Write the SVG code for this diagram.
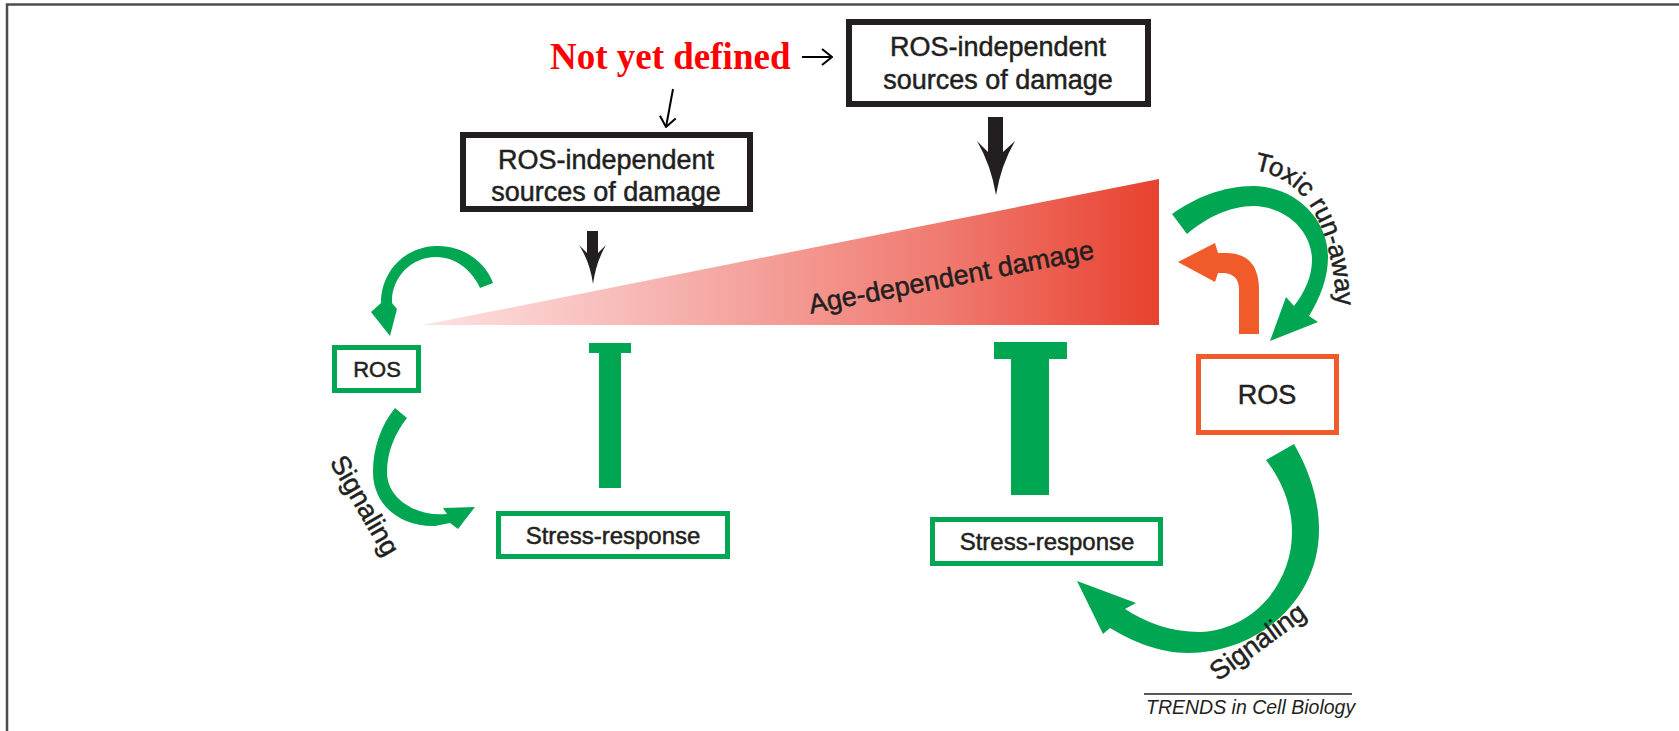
<svg xmlns="http://www.w3.org/2000/svg" width="1679" height="731" viewBox="0 0 1679 731">
<defs>
<linearGradient id="wedge" gradientUnits="userSpaceOnUse" x1="423" y1="0" x2="1160" y2="0">
<stop offset="0" stop-color="#fde2e2"/>
<stop offset="0.35" stop-color="#f6b0ac"/>
<stop offset="0.7" stop-color="#f07b71"/>
<stop offset="1" stop-color="#e8412f"/>
</linearGradient>
<marker id="vhead" viewBox="0 0 12 18" refX="11" refY="9" markerWidth="12" markerHeight="18" markerUnits="userSpaceOnUse" orient="auto">
<path d="M1,1 L11,9 L1,17" fill="none" stroke="#000" stroke-width="2"/>
</marker>
<path id="toxicPath" d="M1248,169 C1300,176 1337,212 1338,340"/>
</defs>
<style>
.lbl{font-family:"Liberation Sans",Arial,sans-serif;fill:#231f20;stroke:#231f20;stroke-width:0.5;}
.boxk{fill:#fff;stroke:#231f20;stroke-width:6;}
.boxg{fill:#fff;stroke:#00a651;stroke-width:5;}
.boxo{fill:#fff;stroke:#f15a29;stroke-width:5;}
.green{fill:#00a651;}
.black{fill:#231f20;}
.orange{fill:#f15a29;}
.thin{fill:none;stroke:#000;stroke-width:2;marker-end:url(#vhead);}
</style>

<!-- frame -->
<path d="M7,731 V4.5 H1679" fill="none" stroke="#4d4d4d" stroke-width="2.5"/>

<!-- wedge -->
<g id="wedge-damage">
<polygon points="423,325 1159,179 1159,325" fill="url(#wedge)"/>
<text class="lbl" font-size="27" text-anchor="middle" transform="translate(953,286) rotate(-11)">Age-dependent damage</text>
</g>

<g id="not-yet-defined">
<text x="550" y="69" font-family="'Liberation Serif','Times New Roman',serif" font-weight="bold" font-size="37" fill="#ff0000">Not yet defined</text>
</g>

<g id="ros-indep-top">
<rect class="boxk" x="849" y="22" width="299" height="82"/>
<text class="lbl" font-size="27" text-anchor="middle" x="998" y="56">ROS-independent</text>
<text class="lbl" font-size="27" text-anchor="middle" x="998" y="89">sources of damage</text>
</g>

<g id="ros-indep-left">
<rect class="boxk" x="463" y="135" width="287" height="74"/>
<text class="lbl" font-size="27" text-anchor="middle" x="606" y="169">ROS-independent</text>
<text class="lbl" font-size="27" text-anchor="middle" x="606" y="201">sources of damage</text>
</g>

<g id="ros-left">
<rect class="boxg" x="334.5" y="347.5" width="84" height="43"/>
<text class="lbl" font-size="22" text-anchor="middle" x="377" y="377">ROS</text>
</g>

<g id="stress-left">
<rect class="boxg" x="498.5" y="513.5" width="229" height="43"/>
<text class="lbl" font-size="24" text-anchor="middle" x="613" y="544">Stress-response</text>
</g>

<g id="stress-right">
<rect class="boxg" x="932.5" y="519.5" width="228" height="44"/>
<text class="lbl" font-size="24" text-anchor="middle" x="1047" y="550">Stress-response</text>
</g>

<g id="ros-right">
<rect class="boxo" x="1198.5" y="356.5" width="138" height="76"/>
<text class="lbl" font-size="27" text-anchor="middle" x="1267" y="404">ROS</text>
</g>

<g id="connectors">
<!-- thin arrows from Not yet defined -->
<line class="thin" x1="802" y1="57" x2="832" y2="57"/>
<line class="thin" x1="673" y1="89" x2="666" y2="127"/>
<!-- black damage arrows -->
<path class="black" d="M988,117 H1003 V152 L1015,141 Q1001,165 996,195 Q991,165 977,141 L988,152 Z"/>
<path class="black" d="M587,231 H598 V253 L606,245 Q596,262 593,284 Q590,262 579,245 L587,253 Z"/>
<!-- inhibition bars -->
<path class="green" d="M589,343 H631 V353 H621 V488 H599 V353 H589 Z"/>
<path class="green" d="M994,342 H1067 V359 H1049 V495 H1011 V359 H994 Z"/>
<!-- left small loop to ROS -->
<path class="green" d="M493,283 C485,261 462,245 436,246 C404,247 381,272 381,303 L371,312 L390,336 L397,309 L392,303 C391,279 410,257 436,257 C457,257 473,272 480,288 Z"/>
<!-- left signaling -->
<path class="green" d="M395,408 C381,425 373,448 373,472 C373,505 400,527 435,526 L450,523 L458,529 L475,507 L443,508 L447,514 C418,517 387,500 387,472 C387,452 395,433 407,418 Z"/>
<text class="lbl" font-size="27" text-anchor="middle" transform="translate(357,510) rotate(60)">Signaling</text>
<!-- toxic run-away -->
<path class="green" d="M1172,214 C1195,198 1222,186 1254,186 C1297,187 1328,220 1328,257 C1328,278 1320,298 1309,316 L1318,322 L1270,341 L1286,297 L1294,306 C1305,292 1312,276 1312,260 C1312,232 1287,207 1254,206 C1229,206 1206,218 1187,234 Z"/>
<text class="lbl" font-size="26"><textPath href="#toxicPath" startOffset="6">Toxic run-away</textPath></text>
<!-- orange ROS to damage -->
<path class="orange" d="M1239,334 L1239,290 Q1239,273 1222,273 L1218,273 L1215,282 L1178,262 L1215,243 L1218,253 L1226,253 Q1259,253 1259,290 L1259,334 Z"/>
<!-- right signaling -->
<path class="green" d="M1294,444 C1310,472 1319,500 1319,530 C1319,600 1258,653 1188,653 C1160,653 1133,642 1110,628 L1103,634 L1077,581 L1136,603 L1125,609 C1145,622 1170,632 1200,632 C1252,630 1292,585 1292,532 C1292,507 1283,482 1266,460 Z"/>
<text class="lbl" font-size="27" text-anchor="middle" transform="translate(1263,649) rotate(-36)">Signaling</text>
</g>

<g id="credit">
<line x1="1144" y1="694" x2="1352" y2="694" stroke="#231f20" stroke-width="1.3"/>
<text font-family="'Liberation Sans',Arial,sans-serif" fill="#231f20" font-size="19.5" font-style="italic" x="1146" y="714">TRENDS in Cell Biology</text>
</g>
</svg>
